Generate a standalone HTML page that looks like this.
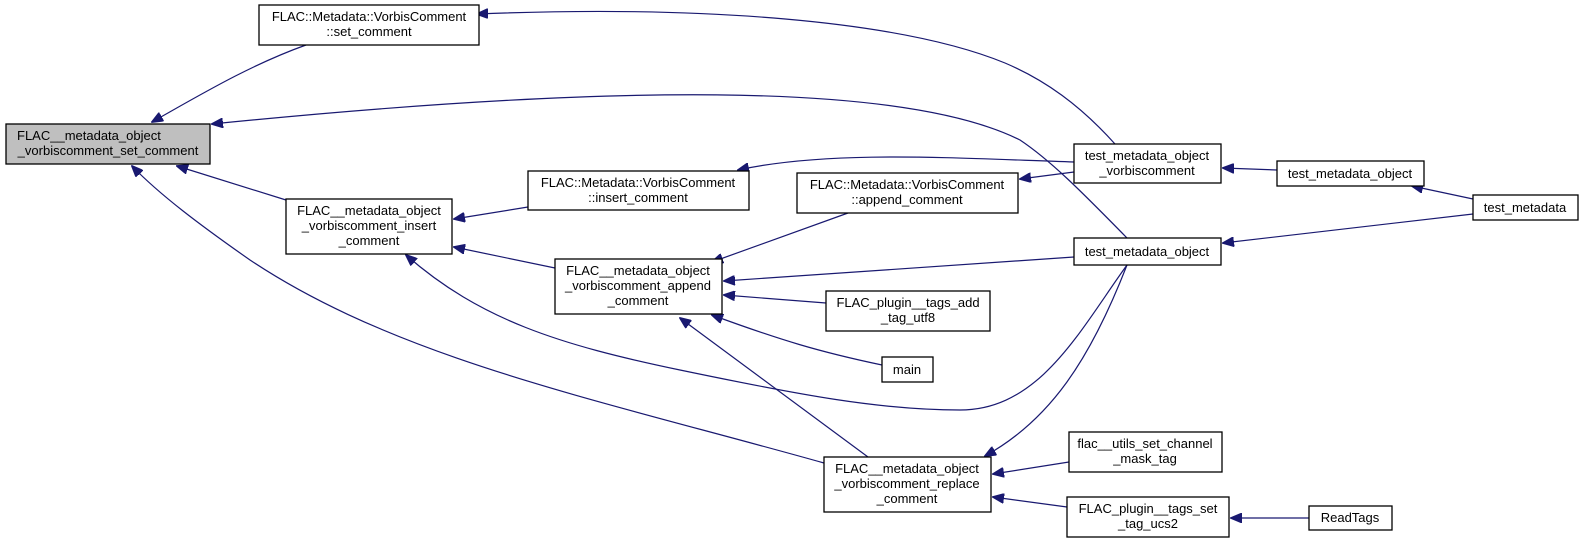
<!DOCTYPE html>
<html><head><meta charset="utf-8"><style>
html,body{margin:0;padding:0;background:#fff;}
svg{display:block;}
text{font-family:"Liberation Sans",Arial,sans-serif;font-size:13px;fill:#000;text-anchor:middle;}
.n{fill:#fff;stroke:#000;stroke-width:1.3;}
.e{fill:none;stroke:#191970;stroke-width:1.2;}
</style></head><body>
<svg width="1584" height="543" viewBox="0 0 1584 543" xmlns="http://www.w3.org/2000/svg">
<defs><marker id="a" markerWidth="12" markerHeight="10" refX="11" refY="5" orient="auto" markerUnits="userSpaceOnUse"><path d="M0,0 L12,5 L0,10 Z" fill="#191970" stroke="#191970"/></marker></defs>
<g>
<path class="e" marker-end="url(#a)" d="M306,45 C250,65 200,95 152,122"/>
<path class="e" marker-end="url(#a)" d="M1115,144 C1080,105 1045,80 1005,63 C900,20 700,5 477,14"/>
<path class="e" marker-end="url(#a)" d="M1127,238 C1080,190 1050,160 1020,140 C900,80 600,85 212,124"/>
<path class="e" marker-end="url(#a)" d="M286,200 L177,166"/>
<path class="e" marker-end="url(#a)" d="M824,463 C600,400 400,360 250,260 C200,225 160,195 132,166"/>
<path class="e" marker-end="url(#a)" d="M528,207 L454,219"/>
<path class="e" marker-end="url(#a)" d="M555,268 L454,247"/>
<path class="e" marker-end="url(#a)" d="M1127,265 C1080,330 1040,410 960,410 C880,410 800,395 680,370 C560,345 480,320 406,255"/>
<path class="e" marker-end="url(#a)" d="M1074,162 C950,158 830,150 738,170"/>
<path class="e" marker-end="url(#a)" d="M1074,172 L1020,179"/>
<path class="e" marker-end="url(#a)" d="M848,213 L712,262"/>
<path class="e" marker-end="url(#a)" d="M1074,257 L724,281"/>
<path class="e" marker-end="url(#a)" d="M826,303 L724,295"/>
<path class="e" marker-end="url(#a)" d="M882,365 C820,352 780,340 712,315"/>
<path class="e" marker-end="url(#a)" d="M868,457 L680,318"/>
<path class="e" marker-end="url(#a)" d="M1127,265 C1090,360 1050,420 985,456"/>
<path class="e" marker-end="url(#a)" d="M1069,462 L993,474"/>
<path class="e" marker-end="url(#a)" d="M1067,507 L993,497"/>
<path class="e" marker-end="url(#a)" d="M1309,518 L1231,518"/>
<path class="e" marker-end="url(#a)" d="M1277,170 L1223,168"/>
<path class="e" marker-end="url(#a)" d="M1473,199 L1412,186"/>
<path class="e" marker-end="url(#a)" d="M1473,214 L1223,243"/>
</g>
<rect x="6" y="124" width="204" height="40" fill="#bfbfbf" stroke="#000" stroke-width="1.3"/>
<text x="108" y="140" style="text-anchor:start" transform="translate(-91,0)">FLAC__metadata_object</text>
<text x="108" y="155">_vorbiscomment_set_comment</text>

<rect class="n" x="259" y="5" width="220" height="40"/>
<text x="369" y="21">FLAC::Metadata::VorbisComment</text>
<text x="369" y="36">::set_comment</text>

<rect class="n" x="286" y="199" width="166" height="55"/>
<text x="369" y="215">FLAC__metadata_object</text>
<text x="369" y="230">_vorbiscomment_insert</text>
<text x="369" y="245">_comment</text>

<rect class="n" x="528" y="171" width="221" height="39"/>
<text x="638" y="187">FLAC::Metadata::VorbisComment</text>
<text x="638" y="202">::insert_comment</text>

<rect class="n" x="797" y="173" width="221" height="40"/>
<text x="907" y="189">FLAC::Metadata::VorbisComment</text>
<text x="907" y="204">::append_comment</text>

<rect class="n" x="555" y="259" width="167" height="55"/>
<text x="638" y="275">FLAC__metadata_object</text>
<text x="638" y="290">_vorbiscomment_append</text>
<text x="638" y="305">_comment</text>

<rect class="n" x="826" y="291" width="164" height="40"/>
<text x="908" y="307">FLAC_plugin__tags_add</text>
<text x="908" y="322">_tag_utf8</text>

<rect class="n" x="882" y="357" width="51" height="25"/>
<text x="907" y="374">main</text>

<rect class="n" x="1074" y="144" width="147" height="39"/>
<text x="1147" y="160">test_metadata_object</text>
<text x="1147" y="175">_vorbiscomment</text>

<rect class="n" x="1074" y="238" width="147" height="27"/>
<text x="1147" y="256">test_metadata_object</text>

<rect class="n" x="1277" y="161" width="147" height="25"/>
<text x="1350" y="178">test_metadata_object</text>

<rect class="n" x="1473" y="195" width="105" height="25"/>
<text x="1525" y="212">test_metadata</text>

<rect class="n" x="824" y="457" width="167" height="55"/>
<text x="907" y="473">FLAC__metadata_object</text>
<text x="907" y="488">_vorbiscomment_replace</text>
<text x="907" y="503">_comment</text>

<rect class="n" x="1069" y="432" width="153" height="40"/>
<text x="1145" y="448">flac__utils_set_channel</text>
<text x="1145" y="463">_mask_tag</text>

<rect class="n" x="1067" y="497" width="162" height="40"/>
<text x="1148" y="513">FLAC_plugin__tags_set</text>
<text x="1148" y="528">_tag_ucs2</text>

<rect class="n" x="1309" y="506" width="83" height="24"/>
<text x="1350" y="522">ReadTags</text>
</svg>
</body></html>
